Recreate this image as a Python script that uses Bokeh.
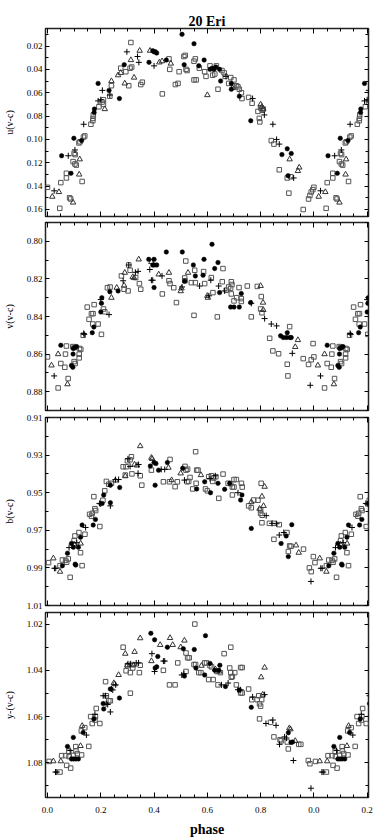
from bokeh.plotting import figure
from bokeh.models import Range1d, LinearAxis, FixedTicker, NumeralTickFormatter, CustomJSTickFormatter, ColumnDataSource
from bokeh.layouts import column
from bokeh.embed import file_html
from bokeh.resources import INLINE

# ---------------- data: (phase, value) pairs ----------------
U_CIRCLE = [(0.053,0.114),(0.088,0.129),(0.099,0.099),(0.128,0.101),(0.175,0.077),(0.176,0.074),(0.19,0.052),
            (0.231,0.058),(0.27,0.065),(0.288,0.036),(0.381,0.034),(0.395,0.024),(0.40,0.025),(0.405,0.025),
            (0.41,0.026),(0.446,0.032),(0.505,0.010),(0.513,0.036),(0.55,0.018),(0.568,0.037),(0.588,0.032),
            (0.61,0.040),(0.618,0.039),(0.625,0.040),(0.632,0.038),(0.646,0.040),(0.65,0.050),(0.69,0.052),
            (0.69,0.057),(0.72,0.063),(0.763,0.084),(0.88,0.113),(0.90,0.108),(0.915,0.112),(0.903,0.131)]
U_SQUARE = [(0.0,0.141),(0.046,0.159),(0.05,0.137),(0.071,0.129),(0.071,0.133),(0.083,0.150),(0.087,0.151),
            (0.096,0.119),(0.10,0.112),(0.104,0.113),(0.103,0.121),(0.108,0.122),(0.13,0.136),(0.118,0.103),
            (0.122,0.102),(0.135,0.098),(0.14,0.097),(0.163,0.087),(0.17,0.084),(0.171,0.082),(0.172,0.079),
            (0.193,0.072),(0.205,0.068),(0.21,0.070),(0.21,0.066),(0.234,0.063),(0.24,0.054),(0.275,0.039),
            (0.294,0.042),(0.305,0.054),(0.313,0.017),(0.31,0.039),(0.316,0.038),(0.35,0.053),(0.356,0.051),
            (0.431,0.061),(0.456,0.031),(0.459,0.040),(0.48,0.053),(0.49,0.052),(0.494,0.042),(0.512,0.029),
            (0.517,0.028),(0.52,0.040),(0.524,0.041),(0.55,0.049),(0.558,0.049),(0.55,0.033),(0.555,0.031),
            (0.57,0.039),(0.59,0.042),(0.595,0.046),(0.61,0.037),(0.62,0.045),(0.628,0.044),(0.634,0.037),
            (0.64,0.057),(0.655,0.041),(0.663,0.043),(0.667,0.046),(0.688,0.047),(0.70,0.049),(0.68,0.052),
            (0.70,0.054),(0.71,0.054),(0.715,0.055),(0.72,0.057),(0.728,0.060),(0.73,0.065),(0.755,0.064),
            (0.768,0.069),(0.79,0.076),(0.80,0.073),(0.806,0.075),(0.81,0.074),(0.795,0.082),(0.797,0.085),
            (0.84,0.101),(0.85,0.104),(0.87,0.126),(0.90,0.133),(0.913,0.132),(0.906,0.146),(0.96,0.160),
            (0.98,0.151),(0.985,0.148),(0.99,0.145),(0.996,0.143)]
U_TRIANGLE = [(0.018,0.149),(0.043,0.145),(0.096,0.154),(0.121,0.117),(0.119,0.130),(0.215,0.074),(0.24,0.050),
              (0.265,0.045),(0.275,0.043),(0.29,0.052),(0.313,0.032),(0.325,0.047),(0.346,0.024),(0.385,0.024),
              (0.42,0.034),(0.43,0.033),(0.463,0.035),(0.60,0.062),(0.695,0.056),(0.80,0.070),(0.805,0.072),
              (0.81,0.074),(0.909,0.117),(0.94,0.127),(0.945,0.124)]
U_PLUS = [(0.025,0.144),(0.078,0.114),(0.103,0.109),(0.136,0.087),(0.19,0.067),(0.20,0.066),(0.206,0.058),
          (0.234,0.062),(0.298,0.025),(0.338,0.029),(0.343,0.034),(0.40,0.037),(0.67,0.046),(0.77,0.065),
          (0.814,0.079),(0.846,0.087),(0.86,0.100),(0.87,0.104),(0.924,0.133)]

V_CIRCLE = [(0.05,0.8553),(0.09,0.866),(0.095,0.867),(0.096,0.860),(0.097,0.857),(0.103,0.8565),(0.109,0.856),
            (0.168,0.8486),(0.174,0.8456),(0.20,0.8376),(0.2025,0.833),(0.204,0.830),(0.234,0.8268),(0.265,0.8264),
            (0.38,0.8096),(0.40,0.8096),(0.395,0.8126),(0.40,0.8126),(0.41,0.8126),(0.40,0.8246),(0.446,0.8057),
            (0.506,0.8057),(0.515,0.8212),(0.5475,0.8126),(0.555,0.8184),(0.5875,0.8096),(0.584,0.818),
            (0.6175,0.8016),(0.6275,0.8145),(0.64,0.8113),(0.646,0.8273),(0.6875,0.835),(0.70,0.835),(0.72,0.835),
            (0.7275,0.8278),(0.7625,0.8326),(0.875,0.8503),(0.90,0.8486),(0.885,0.8512),(0.897,0.8512),
            (0.91,0.8512),(0.915,0.8512)]
V_SQUARE = [(0.0,0.8615),(0.04,0.878),(0.05,0.865),(0.065,0.867),(0.0675,0.86),(0.071,0.8557),(0.0775,0.873),
            (0.095,0.856),(0.10,0.8565),(0.10,0.864),(0.104,0.865),(0.12,0.857),(0.125,0.8575),(0.119,0.86),
            (0.119,0.862),(0.134,0.850),(0.149,0.835),(0.156,0.8415),(0.165,0.8385),(0.171,0.8385),(0.175,0.8337),
            (0.17,0.844),(0.19,0.844),(0.2025,0.8495),(0.21,0.836),(0.215,0.8375),(0.225,0.8247),(0.235,0.8243),
            (0.2775,0.8184),(0.2875,0.8255),(0.3025,0.8264),(0.305,0.8126),(0.31,0.8154),(0.331,0.8193),
            (0.345,0.8225),(0.35,0.8255),(0.431,0.828),(0.456,0.821),(0.46,0.8225),(0.474,0.8247),(0.484,0.8326),
            (0.515,0.8195),(0.516,0.821),(0.519,0.8105),(0.54,0.822),(0.55,0.8394),(0.5525,0.8154),(0.555,0.822),
            (0.586,0.8161),(0.59,0.8225),(0.615,0.8193),(0.621,0.8273),(0.6375,0.8402),(0.656,0.8215),
            (0.6588,0.8145),(0.671,0.826),(0.68,0.8243),(0.6875,0.825),(0.69,0.8215),(0.6925,0.823),(0.69,0.828),
            (0.70,0.8317),(0.71,0.830),(0.719,0.8246),(0.7275,0.8305),(0.7275,0.832),(0.75,0.8238),(0.765,0.8402),
            (0.7875,0.824),(0.8025,0.8294),(0.80,0.836),(0.805,0.838),(0.834,0.8516),(0.846,0.8583),
            (0.8675,0.8598),(0.90,0.8654),(0.9025,0.8716),(0.909,0.8454),(0.96,0.8624),(0.98,0.8655),
            (0.99,0.863),(0.997,0.8544)]
V_TRIANGLE = [(0.015,0.866),(0.04,0.86),(0.075,0.876),(0.24,0.830),(0.26,0.8247),(0.2875,0.8235),(0.29,0.8167),
              (0.32,0.819),(0.325,0.8195),(0.3425,0.8096),(0.39,0.811),(0.4175,0.8176),(0.456,0.8167),(0.50,0.8265),
              (0.503,0.825),(0.5275,0.8167),(0.60,0.829),(0.602,0.830),(0.80,0.8237),(0.809,0.8326),(0.81,0.8365),
              (0.93,0.8562),(0.94,0.8525)]
V_PLUS = [(0.025,0.8716),(0.136,0.849),(0.138,0.8495),(0.2,0.831),(0.231,0.839),(0.284,0.821),(0.305,0.8126),
          (0.33,0.8165),(0.34,0.8160),(0.384,0.815),(0.39,0.8207),(0.395,0.8207),(0.43,0.8184),(0.505,0.8243),
          (0.571,0.8238),(0.606,0.829),(0.613,0.8207),(0.6425,0.8238),(0.665,0.8264),(0.765,0.833),(0.815,0.8411),
          (0.84,0.8440),(0.86,0.8450),(0.919,0.8596),(0.9863,0.8766)]

B_CIRCLE = [(0.056,0.9888),(0.075,0.9822),(0.097,0.979),(0.09,0.977),(0.104,0.988),(0.106,0.9885),(0.116,0.979),
            (0.124,0.9737),(0.13,0.9672),(0.1716,0.9672),(0.18,0.9642),(0.205,0.9557),(0.211,0.9512),(0.236,0.9553),
            (0.236,0.946),(0.271,0.9472),(0.386,0.9358),(0.40,0.934),(0.407,0.9345),(0.404,0.946),(0.417,0.938),
            (0.45,0.934),(0.5075,0.937),(0.56,0.948),(0.59,0.9442),(0.612,0.950),(0.64,0.945),(0.665,0.9482),
            (0.684,0.945),(0.725,0.9539),(0.73,0.9512),(0.765,0.969),(0.877,0.977),(0.896,0.973),(0.904,0.984),
            (0.917,0.967)]
B_SQUARE = [(0.004,0.9872),(0.047,0.9888),(0.056,0.9858),(0.068,0.986),(0.072,0.987),(0.078,0.9852),(0.085,0.995),
            (0.10,0.9755),(0.103,0.973),(0.118,0.9712),(0.124,0.9819),(0.13,0.9888),(0.1405,0.9721),(0.158,0.9615),
            (0.165,0.9625),(0.168,0.961),(0.174,0.9521),(0.178,0.9585),(0.181,0.9595),(0.1965,0.968),(0.208,0.954),
            (0.215,0.949),(0.221,0.944),(0.23,0.9455),(0.24,0.945),(0.284,0.9362),(0.295,0.9362),(0.292,0.9406),
            (0.30,0.933),(0.31,0.9325),(0.315,0.9309),(0.317,0.940),(0.348,0.941),(0.354,0.946),(0.39,0.938),
            (0.435,0.9442),(0.458,0.9442),(0.46,0.9323),(0.479,0.9468),(0.4875,0.9442),(0.516,0.936),(0.52,0.938),
            (0.526,0.9375),(0.524,0.9442),(0.53,0.944),(0.535,0.9419),(0.545,0.948),(0.556,0.9282),(0.558,0.945),
            (0.56,0.938),(0.565,0.938),(0.593,0.948),(0.60,0.949),(0.605,0.9415),(0.615,0.941),(0.624,0.9422),
            (0.632,0.9415),(0.62,0.944),(0.643,0.953),(0.659,0.9401),(0.678,0.945),(0.688,0.9452),(0.694,0.947),
            (0.70,0.947),(0.70,0.943),(0.709,0.943),(0.694,0.9512),(0.731,0.947),(0.728,0.945),(0.755,0.957),
            (0.765,0.958),(0.774,0.9539),(0.79,0.954),(0.802,0.945),(0.80,0.9592),(0.80,0.961),(0.806,0.962),
            (0.805,0.966),(0.833,0.9663),(0.85,0.9663),(0.87,0.967),(0.85,0.9748),(0.899,0.9712),(0.904,0.9813),
            (0.909,0.9783),(0.914,0.9785),(0.961,0.980),(0.983,0.990),(0.99,0.992),(0.998,0.984)]
B_TRIANGLE = [(0.022,0.9849),(0.047,0.992),(0.10,0.9775),(0.1245,0.977),(0.255,0.9435),(0.292,0.9412),(0.327,0.935),
              (0.336,0.9355),(0.348,0.9252),(0.39,0.9314),(0.393,0.932),(0.454,0.9367),(0.466,0.9433),(0.50,0.9397),
              (0.576,0.9406),(0.765,0.955),(0.796,0.9585),(0.805,0.952),(0.811,0.957),(0.815,0.9468),(0.933,0.978),
              (0.943,0.9819)]
B_PLUS = [(0.026,0.9902),(0.031,0.9902),(0.081,0.9792),(0.11,0.9766),(0.143,0.9685),(0.195,0.9557),(0.20,0.956),
          (0.236,0.957),(0.255,0.943),(0.267,0.943),(0.302,0.932),(0.31,0.936),(0.34,0.9397),(0.342,0.935),
          (0.427,0.9376),(0.44,0.9376),(0.514,0.9433),(0.61,0.9425),(0.63,0.941),(0.715,0.950),(0.821,0.9622),
          (0.843,0.9663),(0.86,0.9665),(0.87,0.9725),(0.887,0.9712),(0.989,0.9972)]

Y_CIRCLE = [(0.075,1.0729),(0.097,1.069),(0.09,1.0783),(0.098,1.0783),(0.106,1.0783),(0.116,1.0783),(0.134,1.0669),
            (0.174,1.061),(0.209,1.0544),(0.211,1.0567),(0.236,1.0481),(0.27,1.052),(0.388,1.024),(0.402,1.0268),
            (0.404,1.039),(0.41,1.0385),(0.414,1.034),(0.45,1.030),(0.51,1.0307),(0.514,1.0425),(0.551,1.031),
            (0.557,1.039),(0.59,1.042),(0.593,1.025),(0.61,1.037),(0.628,1.040),(0.643,1.040),(0.647,1.0378),
            (0.668,1.047),(0.72,1.0485),(0.765,1.056),(0.904,1.067),(0.914,1.0712),(0.92,1.071)]
Y_SQUARE = [(0.006,1.0794),(0.047,1.084),(0.053,1.0769),(0.068,1.0769),(0.072,1.0811),(0.087,1.0823),(0.08,1.075),
            (0.081,1.0773),(0.097,1.0768),(0.106,1.073),(0.107,1.0748),(0.112,1.076),(0.128,1.0766),(0.127,1.0662),
            (0.14,1.0648),(0.155,1.0729),(0.162,1.060),(0.168,1.063),(0.178,1.0615),(0.18,1.060),(0.183,1.0565),
            (0.1965,1.063),(0.218,1.0449),(0.221,1.051),(0.23,1.0532),(0.236,1.0532),(0.284,1.030),(0.295,1.0402),
            (0.311,1.041),(0.30,1.038),(0.318,1.0375),(0.32,1.039),(0.311,1.0499),(0.345,1.041),(0.348,1.0378),
            (0.435,1.040),(0.458,1.0463),(0.479,1.0463),(0.489,1.0368),(0.52,1.0325),(0.526,1.0346),(0.532,1.0346),
            (0.52,1.0405),(0.55,1.0375),(0.556,1.0375),(0.553,1.020),(0.568,1.041),(0.576,1.041),(0.59,1.0368),
            (0.597,1.0368),(0.61,1.038),(0.616,1.0385),(0.605,1.044),(0.622,1.044),(0.636,1.0405),(0.649,1.041),
            (0.64,1.0463),(0.663,1.0328),(0.688,1.030),(0.684,1.039),(0.688,1.041),(0.69,1.043),(0.694,1.0427),
            (0.703,1.041),(0.709,1.0463),(0.725,1.0498),(0.731,1.0498),(0.725,1.0388),(0.731,1.0388),(0.755,1.0481),
            (0.767,1.0527),(0.787,1.0527),(0.793,1.051),(0.796,1.0545),(0.80,1.0555),(0.796,1.061),(0.804,1.0527),
            (0.837,1.0625),(0.85,1.0688),(0.873,1.070),(0.877,1.0705),(0.90,1.071),(0.904,1.074),(0.943,1.072),
            (0.951,1.072),(0.979,1.079),(0.985,1.0804)]
Y_TRIANGLE = [(0.022,1.0793),(0.05,1.0793),(0.124,1.0727),(0.13,1.064),(0.249,1.0455),(0.252,1.046),(0.267,1.042),
              (0.292,1.0328),(0.30,1.0378),(0.323,1.0378),(0.327,1.032),(0.348,1.0261),(0.39,1.036),(0.423,1.029),
              (0.46,1.026),(0.47,1.029),(0.50,1.030),(0.514,1.0271),(0.578,1.038),(0.63,1.0395),(0.645,1.0405),
              (0.802,1.043),(0.815,1.0388),(0.808,1.0505),(0.908,1.065),(0.912,1.0655),(0.93,1.0705)]
Y_PLUS = [(0.03,1.084),(0.035,1.084),(0.085,1.0747),(0.146,1.068),(0.178,1.059),(0.209,1.051),(0.218,1.051),
          (0.22,1.0545),(0.226,1.0548),(0.236,1.058),(0.24,1.0481),(0.245,1.0485),(0.256,1.0463),(0.302,1.0372),
          (0.311,1.0372),(0.333,1.0368),(0.342,1.0368),(0.392,1.0328),(0.402,1.0405),(0.435,1.036),(0.44,1.036),
          (0.504,1.042),(0.512,1.0415),(0.653,1.0463),(0.678,1.0455),(0.715,1.0484),(0.725,1.0484),(0.77,1.0515),
          (0.815,1.0505),(0.82,1.063),(0.846,1.0615),(0.858,1.0638),(0.871,1.072),(0.89,1.0688),(0.897,1.0693),
          (0.923,1.079),(0.989,1.091)]

# panel y-ranges (top value, bottom value) and ticks
U_RANGE = (0.005, 0.166)
V_RANGE = (0.79, 0.89)
B_RANGE = (0.91, 1.01)
Y_RANGE = (1.015, 1.095)
U_TICKS = [0.02, 0.04, 0.06, 0.08, 0.10, 0.12, 0.14, 0.16]
V_TICKS = [0.80, 0.82, 0.84, 0.86, 0.88]
B_TICKS = [0.91, 0.93, 0.95, 0.97, 0.99, 1.01]
Y_TICKS = [1.02, 1.04, 1.06, 1.08]
U_MINOR = [0.01, 0.03, 0.05, 0.07, 0.09, 0.11, 0.13, 0.15]
V_MINOR = [0.79, 0.81, 0.83, 0.85, 0.87, 0.89]
B_MINOR = [0.92, 0.94, 0.96, 0.98, 1.00]
Y_MINOR = [1.03, 1.05, 1.07, 1.09]
PHASE_TICKS = [0.0, 0.2, 0.4, 0.6, 0.8, 1.0, 1.2]
PHASE_MINOR = [0.05, 0.1, 0.15, 0.25, 0.3, 0.35, 0.45, 0.5, 0.55, 0.65, 0.7, 0.75,
               0.85, 0.9, 0.95, 1.05, 1.1, 1.15]

SERIF = "Liberation Serif"
LEFT_B = 43
FRAME_W = 325
RIGHT_B = 6


def wrapped(pairs):
    xs = [p for p, _ in pairs]
    ys = [v for _, v in pairs]
    # repeat the first 0.2 of phase after phase 1.0
    xs += [p + 1.0 for p, _ in pairs if p < 0.21]
    ys += [v for p, v in pairs if p < 0.21]
    return ColumnDataSource(dict(x=xs, y=ys))


def style_axis(ax, labels=True, tick_in=4, minor_in=3, fsize="9px"):
    ax.axis_line_color = None
    ax.major_tick_out = 0
    ax.minor_tick_out = 0
    ax.major_tick_in = tick_in
    ax.minor_tick_in = minor_in
    ax.major_tick_line_color = "black"
    ax.minor_tick_line_color = "black"
    ax.major_label_text_font = SERIF
    ax.major_label_text_color = "black"
    if labels:
        ax.major_label_text_font_size = fsize
    else:
        ax.major_label_text_font_size = "0px"
        ax.major_label_standoff = 0


def panel(data, yrange, ticks, minors, ylabel, top_border, frame_h, bottom_border, title=None, last=False):
    p = figure(width=LEFT_B + FRAME_W + RIGHT_B, height=top_border + frame_h + bottom_border,
               x_range=Range1d(-0.0075, 1.205), y_range=Range1d(yrange[1], yrange[0]),
               x_axis_type=None, y_axis_type=None,
               output_backend="svg", toolbar_location=None,
               min_border_left=LEFT_B, min_border_right=RIGHT_B,
               min_border_top=top_border, min_border_bottom=bottom_border)
    p.outline_line_color = "#222222"
    p.outline_line_width = 1.5
    p.background_fill_color = "white"
    p.border_fill_color = "white"
    if title:
        p.title.text = title
        p.title.align = "center"
        p.title.text_font = SERIF
        p.title.text_font_size = "14px"
        p.title.text_font_style = "bold"
        p.title.text_color = "black"
        p.title.standoff = 0
        p.title.offset = 0

    yt = FixedTicker(ticks=ticks, minor_ticks=minors)
    left = LinearAxis(ticker=yt, formatter=NumeralTickFormatter(format="0.00"))
    style_axis(left)
    left.major_label_standoff = 3
    left.axis_label = ylabel
    left.axis_label_text_font = SERIF
    left.axis_label_text_font_size = "10px"
    left.axis_label_text_font_style = "normal"
    left.axis_label_text_color = "black"
    left.axis_label_standoff = 9
    p.add_layout(left, "left")
    right = LinearAxis(ticker=yt)
    style_axis(right, labels=False)
    p.add_layout(right, "right")

    xt = FixedTicker(ticks=PHASE_TICKS, minor_ticks=PHASE_MINOR)
    xfmt = CustomJSTickFormatter(code="var t = tick > 0.999 ? tick - 1 : tick; return t.toFixed(1);")
    bottom = LinearAxis(ticker=xt, formatter=xfmt)
    style_axis(bottom, labels=last, tick_in=5, minor_in=3)
    if last:
        bottom.major_label_standoff = 9
        bottom.axis_label = "phase"
        bottom.axis_label_text_font = SERIF
        bottom.axis_label_text_font_size = "14px"
        bottom.axis_label_text_font_style = "bold"
        bottom.axis_label_text_color = "black"
        bottom.axis_label_standoff = 6
    p.add_layout(bottom, "below")
    top = LinearAxis(ticker=xt)
    style_axis(top, labels=False, tick_in=5, minor_in=3)
    p.add_layout(top, "above")

    circ, sq, tri, plus = data
    p.scatter("x", "y", source=wrapped(sq), marker="square", size=4.5, fill_color=None,
              line_color="#555555", line_width=1)
    p.scatter("x", "y", source=wrapped(tri), marker="triangle", size=5.5, fill_color=None,
              line_color="#333333", line_width=1)
    p.scatter("x", "y", source=wrapped(plus), marker="cross", size=6,
              line_color="black", line_width=1)
    p.scatter("x", "y", source=wrapped(circ), marker="circle", size=4.5, fill_color="black",
              line_color="black", line_width=0.5)
    return p


p1 = panel((U_CIRCLE, U_SQUARE, U_TRIANGLE, U_PLUS), U_RANGE, U_TICKS, U_MINOR, "u(v-c)",
           28, 188, 3, title="20 Eri")
p2 = panel((V_CIRCLE, V_SQUARE, V_TRIANGLE, V_PLUS), V_RANGE, V_TICKS, V_MINOR, "v(v-c)",
           3, 188, 2)
p3 = panel((B_CIRCLE, B_SQUARE, B_TRIANGLE, B_PLUS), B_RANGE, B_TICKS, B_MINOR, "b(v-c)",
           5, 188, 5)
p4 = panel((Y_CIRCLE, Y_SQUARE, Y_TRIANGLE, Y_PLUS), Y_RANGE, Y_TICKS, Y_MINOR, "y-(v-c)",
           2, 186, 41, last=True)

layout = column(p1, p2, p3, p4, spacing=0)
open("out.html", "w").write(file_html(layout, INLINE))
